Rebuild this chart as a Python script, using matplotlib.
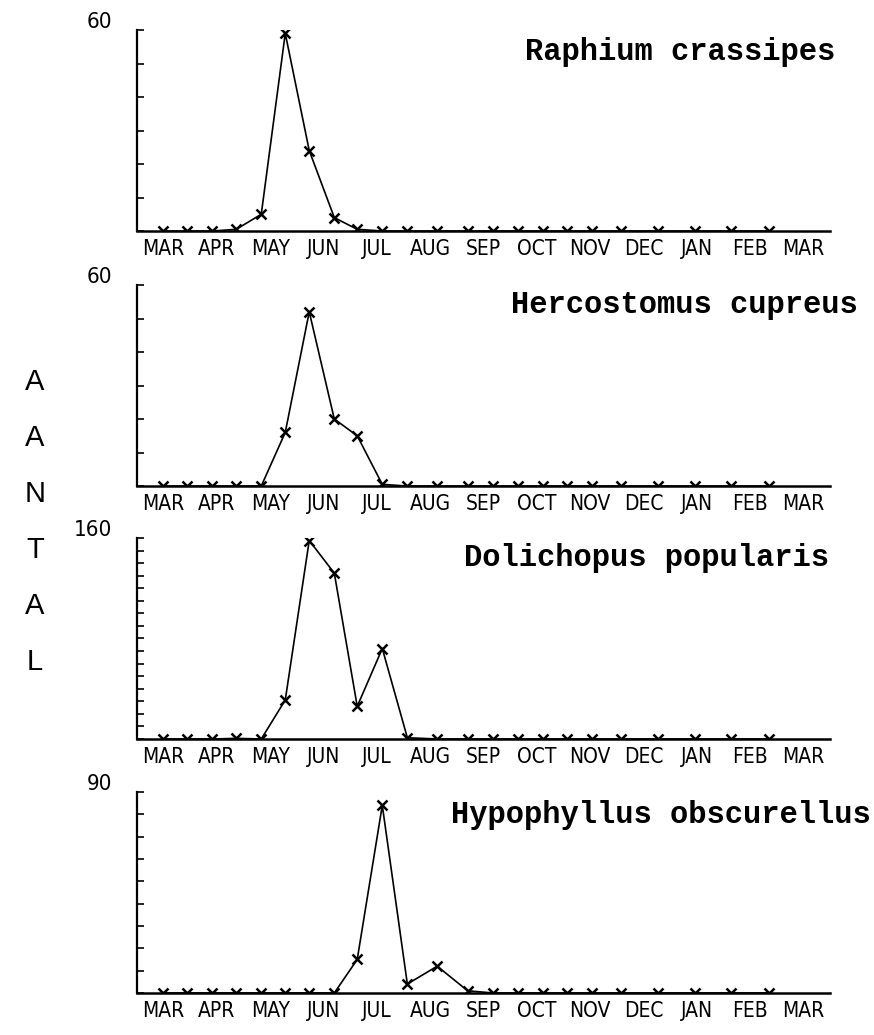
import numpy as np
import matplotlib.pyplot as plt
from matplotlib import font_manager

months = ['MAR', 'APR', 'MAY', 'JUN', 'JUL', 'AUG', 'SEP', 'OCT', 'NOV', 'DEC', 'JAN', 'FEB', 'MAR']
# sampling dates, in months counted from 1 March
sample_month = [0.49, 0.94, 1.41, 1.86, 2.33, 2.78, 3.23, 3.70, 4.13, 4.60, 5.07, 5.63,
                6.20, 6.67, 7.14, 7.62, 8.06, 8.53, 9.07, 9.77, 10.46, 11.14, 11.85]

species = ['Raphium crassipes', 'Hercostomus cupreus', 'Dolichopus popularis', 'Hypophyllus obscurellus']
ymax = [60, 60, 160, 90]

raphium = [0, 0, 0, 0.5, 5, 59, 24, 4, 0.5, 0, 0, 0, 0, 0, 0, 0, 0, 0, 0, 0, 0, 0, 0]
hercostomus = [0, 0, 0, 0, 0, 16, 52, 20, 15, 0.5, 0, 0, 0, 0, 0, 0, 0, 0, 0, 0, 0, 0, 0]
dolichopus = [0, 0, 0, 0.5, 0, 31, 158, 132, 26, 72, 1, 0, 0, 0, 0, 0, 0, 0, 0, 0, 0, 0, 0]
hypophyllus = [0, 0, 0, 0, 0, 0, 0, 0, 15, 84, 4, 12, 1, 0, 0, 0, 0, 0, 0, 0, 0, 0, 0]
counts = [raphium, hercostomus, dolichopus, hypophyllus]

# narrow lettering for the month names, if some condensed face is around
cond = [f for f in font_manager.fontManager.ttflist
        if f.stretch in ('condensed', 'semi-condensed', 'extra-condensed') or 'Narrow' in f.name
        or 'Condensed' in f.name]
if cond:
    narrow = dict(fontfamily=cond[0].name, fontstretch=cond[0].stretch)
else:
    narrow = dict(fontfamily='Roboto')

fig = plt.figure(figsize=(8.74, 10.35), dpi=100)

bottoms = [0.7768, 0.5304, 0.2860, 0.0406]
title_x = [1.007, 1.040, 0.999, 1.058]
title_y = [0.89, 0.90, 0.90, 0.886]

for i in range(4):
    ax = fig.add_axes([0.1568, bottoms[i], 0.793, 0.1942])
    ax.plot(sample_month, counts[i], color='black', lw=1.2,
            marker='x', ms=7, mew=1.8)
    ax.set_xlim(0, 13)
    ax.set_ylim(0, ymax[i])
    ax.spines['top'].set_visible(False)
    ax.spines['right'].set_visible(False)
    ax.spines['left'].set_linewidth(1.6)
    ax.spines['bottom'].set_linewidth(1.8)
    ax.set_yticks(np.arange(0, ymax[i] + 1, 10))
    ax.tick_params(axis='y', direction='in', length=5, width=1.2, labelleft=False)
    ax.set_xticks(np.arange(len(months)) + 0.5)
    ax.set_xticklabels(months, fontsize=15, **narrow)
    ax.tick_params(axis='x', length=0, pad=6)
    ax.text(-0.036, 1.04, str(ymax[i]), transform=ax.transAxes, ha='right', va='center',
            fontsize=16, **narrow)
    ax.text(title_x[i], title_y[i], species[i], transform=ax.transAxes, ha='right', va='center',
            fontfamily='Liberation Mono', fontweight='bold', fontsize=22)

for k, letter in enumerate('AANTAL'):
    fig.text(0.04, 1 - (382 + 56 * k) / 1035, letter, ha='center', va='center',
             fontfamily='Liberation Sans', fontsize=21)

fig.savefig('out.png', dpi=100)
